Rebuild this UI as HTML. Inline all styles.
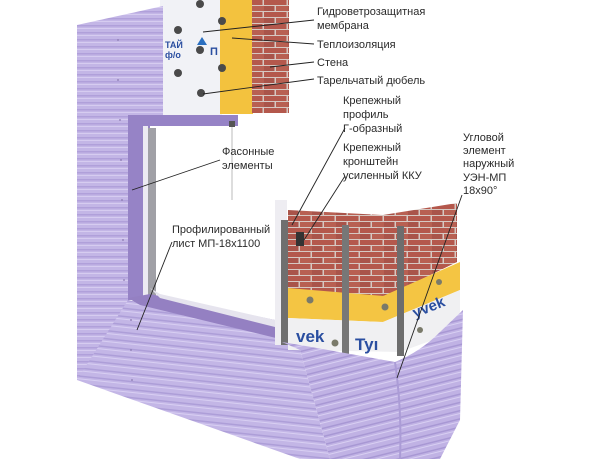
<!DOCTYPE html>
<html><head><meta charset="utf-8"><style>
html,body{margin:0;padding:0;background:#fff;width:612px;height:459px;overflow:hidden}
svg{display:block}
text{font-family:"Liberation Sans",sans-serif;font-size:11px;fill:#2a2a2a}
</style></head><body>
<svg width="612" height="459" viewBox="0 0 612 459" xmlns="http://www.w3.org/2000/svg">
<defs>
<pattern id="brick" width="24" height="12" patternUnits="userSpaceOnUse">
<rect width="24" height="12" fill="#d6c8c2"/>
<rect x="0" y="0" width="22.5" height="5" fill="#b4584c"/>
<rect x="-12" y="6" width="22.5" height="5" fill="#a9544a"/>
<rect x="12" y="6" width="22.5" height="5" fill="#b86052"/>
</pattern>
<pattern id="stripe" width="10" height="7" patternUnits="userSpaceOnUse">
<rect width="10" height="7" fill="#c3b6e6"/>
<rect y="4" width="10" height="1.5" fill="#b0a0da"/>
<rect y="0" width="10" height="1" fill="#d6ccf0"/>
</pattern>
<pattern id="stripe2" width="10" height="8" patternUnits="userSpaceOnUse" patternTransform="rotate(6)">
<rect width="10" height="8" fill="#c3b6e6"/>
<rect y="5" width="10" height="1.5" fill="#ad9ed8"/>
<rect y="0" width="10" height="1" fill="#d8cff2"/>
</pattern>
<pattern id="stripe3" width="10" height="8" patternUnits="userSpaceOnUse" patternTransform="rotate(-14)">
<rect width="10" height="8" fill="#c0b2e4"/>
<rect y="5" width="10" height="1.5" fill="#a898d4"/>
<rect y="0" width="10" height="1" fill="#d8cff2"/>
</pattern>
</defs>

<rect x="160" y="0" width="62" height="115" fill="#f1f2f6"/>
<rect x="220" y="0" width="33" height="114" fill="#f3c23e"/>
<rect x="252" y="0" width="37" height="113" fill="url(#brick)"/>
<text x="165" y="48" style="font-size:9px;fill:#2a4ea0;font-weight:bold">ТАЙ</text>
<text x="165" y="58" style="font-size:9px;fill:#2a4ea0;font-weight:bold">ф/о</text>
<path d="M197 45 l5 -8 l5 8 z" fill="#2a6fc0"/>
<text x="210" y="55" style="font-size:11px;fill:#2a4ea0;font-weight:bold">П</text>
<g fill="#4a4a4a">
<circle cx="200" cy="4" r="4"/><circle cx="178" cy="30" r="4"/><circle cx="222" cy="21" r="4"/>
<circle cx="200" cy="50" r="4"/><circle cx="222" cy="68" r="4"/><circle cx="178" cy="73" r="4"/><circle cx="201" cy="93" r="4"/>
</g>

<polygon points="77,25 163,6 163,118 128,118 128,300 275,336 282,342 282,350 77,380" fill="url(#stripe)"/>
<polygon points="128,300 275,336 300,350 330,459 300,459 77,380" fill="url(#stripe2)"/>
<g fill="#8a7ab0">
<circle cx="118" cy="40" r="0.9"/><circle cx="118" cy="80" r="0.9"/><circle cx="120" cy="120" r="0.9"/><circle cx="121" cy="160" r="0.9"/><circle cx="122" cy="200" r="0.9"/><circle cx="123" cy="240" r="0.9"/><circle cx="124" cy="280" r="0.9"/><circle cx="131" cy="320" r="0.9"/><circle cx="131" cy="350" r="0.9"/><circle cx="132" cy="380" r="0.9"/>
</g>

<polygon points="128,115 238,115 238,126 150,126 150,300 128,300" fill="#9683c6"/>
<polygon points="150,126 275,126 275,320 160,294" fill="#fff"/>
<rect x="143" y="126" width="5" height="172" fill="#eceaf2"/>
<rect x="148" y="128" width="8" height="168" fill="#a0a0a6"/>
<polygon points="128,298 150,294 275,320 276,338 140,305" fill="#9480c2"/>
<polygon points="150,288 160,294 275,320 275,327 160,298" fill="#e6e4ee"/>
<line x1="232" y1="122" x2="232" y2="200" stroke="#aaa" stroke-width="0.8"/>
<rect x="229" y="121" width="6" height="6" fill="#555"/>
<rect x="275" y="200" width="12" height="145" fill="#eeedf2"/>

<polygon points="288,210 383,215 457,203 457,262 383,298 288,290" fill="url(#brick)"/>
<polygon points="288,288 383,296 460,262 460,290 383,322 288,318" fill="#f4c543"/>
<polygon points="288,318 383,322 460,290 460,330 400,352 288,350" fill="#f0f0f2"/>
<text x="296" y="342" style="font-size:17px;fill:#2a4ea0;font-weight:bold">vek</text>
<text x="355" y="350" style="font-size:17px;fill:#2a4ea0;font-weight:bold">Tyı</text>
<text x="415" y="318" style="font-size:15px;fill:#2a4ea0;font-weight:bold" transform="rotate(-22 415 318)">yvek</text>
<g fill="#7a7a6a"><circle cx="310" cy="300" r="3.5"/><circle cx="335" cy="343" r="3.5"/><circle cx="385" cy="307" r="3.5"/><circle cx="439" cy="282" r="3"/><circle cx="420" cy="330" r="3"/></g>
<rect x="281" y="220" width="7" height="125" fill="#6f6f6f"/>
<rect x="342" y="225" width="7" height="130" fill="#777"/>
<rect x="397" y="226" width="7" height="130" fill="#6d6d6d"/>
<rect x="296" y="232" width="8" height="14" fill="#333"/>

<path d="M282,342 L300,345 L395,362 Q420,352 440,332 L463,310 L460,420 L440,459 L330,459 L300,350 Z" fill="url(#stripe3)"/>
<path d="M395,362 Q402,410 400,459" stroke="#ab9cd6" stroke-width="2" fill="none"/>

<g stroke="#222" stroke-width="0.9" fill="none">
<line x1="203" y1="32" x2="314" y2="20"/>
<line x1="232" y1="38" x2="314" y2="44"/>
<line x1="270" y1="67" x2="314" y2="62"/>
<line x1="203" y1="94" x2="314" y2="79"/>
<line x1="345" y1="128" x2="292" y2="225"/>
<line x1="345" y1="176" x2="304" y2="240"/>
<line x1="462" y1="195" x2="397" y2="378"/>
<line x1="220" y1="160" x2="132" y2="190"/>
<line x1="172" y1="242" x2="137" y2="330"/>
</g>

<text x="317" y="15">Гидроветрозащитная</text>
<text x="317" y="29">мембрана</text>
<text x="317" y="48">Теплоизоляция</text>
<text x="317" y="66">Стена</text>
<text x="317" y="84">Тарельчатый дюбель</text>
<text x="343" y="104">Крепежный</text>
<text x="343" y="118">профиль</text>
<text x="343" y="132">Г-образный</text>
<text x="343" y="151">Крепежный</text>
<text x="343" y="165">кронштейн</text>
<text x="343" y="179">усиленный ККУ</text>
<text x="463" y="141">Угловой</text>
<text x="463" y="154">элемент</text>
<text x="463" y="167">наружный</text>
<text x="463" y="181">УЭН-МП</text>
<text x="463" y="194">18x90°</text>
<text x="222" y="155">Фасонные</text>
<text x="222" y="169">элементы</text>
<text x="172" y="233">Профилированный</text>
<text x="172" y="247">лист МП-18x1100</text>
</svg>
</body></html>
